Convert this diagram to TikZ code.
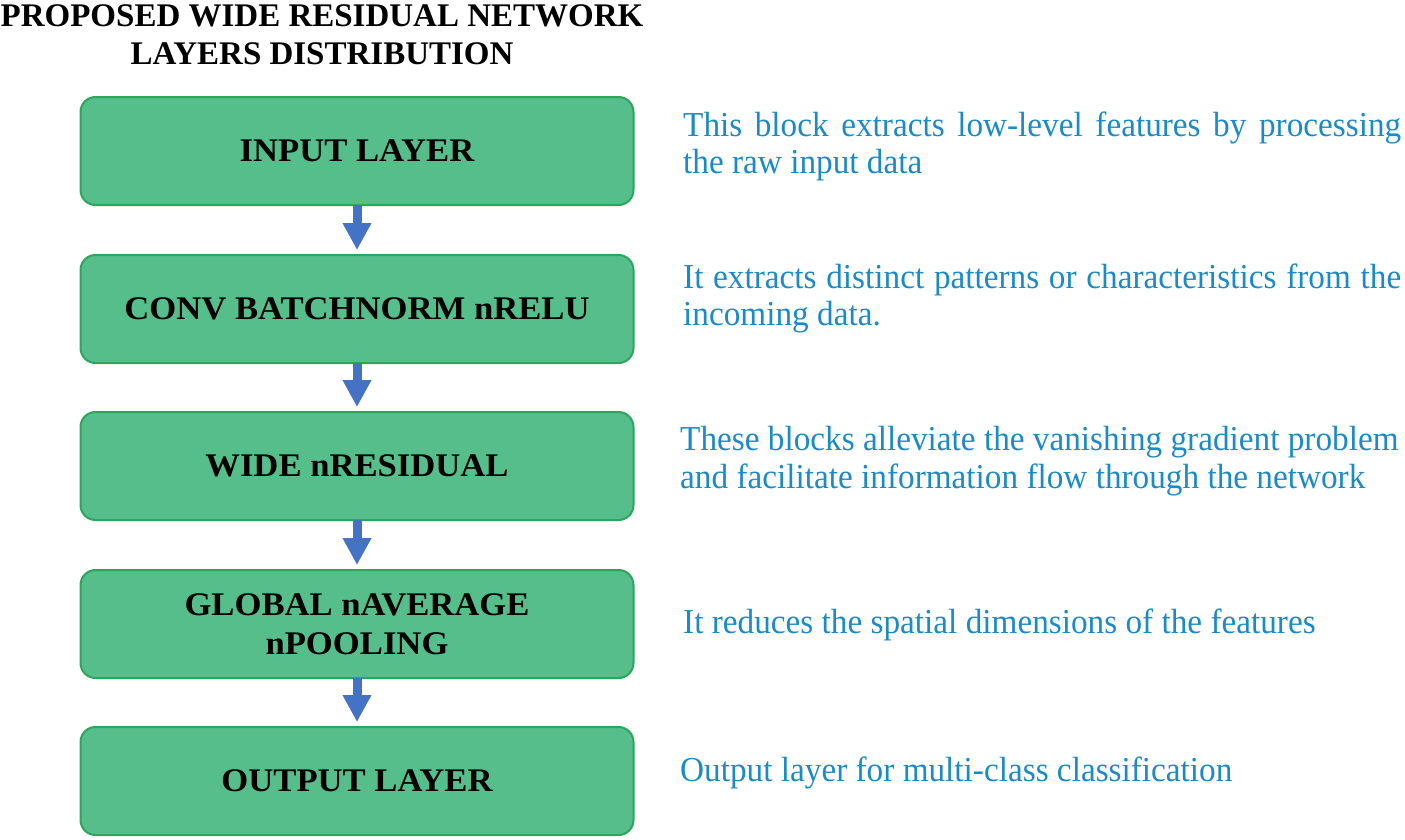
\documentclass[tikz,border=0pt]{standalone}
\usepackage{fontspec}
\setmainfont{Liberation Serif}
\newfontfamily\descfont[FakeStretch=0.95]{Liberation Serif}
\newfontfamily\boxfont[FakeStretch=1.05]{Liberation Serif}
\usetikzlibrary{arrows.meta}
\definecolor{boxfill}{HTML}{55BE8A}
\definecolor{boxline}{HTML}{2BA65A}
\definecolor{arrowblue}{HTML}{4472C4}
\definecolor{textblue}{HTML}{1B8AC8}
\tikzset{
  layerbox/.style={draw=boxline, line width=2pt, fill=boxfill, rounded corners=15pt,
    minimum width=553pt, minimum height=108pt, align=center,
    font=\boxfont\fontsize{33}{39}\selectfont\bfseries, text=black},
  flowarrow/.style={draw=arrowblue, line width=9pt, -{Triangle[width=27pt,length=27pt]}, shorten <=-1pt, shorten >=4pt},
  desc/.style={anchor=base west, text=textblue, font=\descfont\fontsize{35}{38}\selectfont, inner sep=0pt},
  title/.style={anchor=base, font=\fontsize{33}{39}\selectfont\bfseries, text=black, inner sep=0pt}
}
\begin{document}
\begin{tikzpicture}[x=1pt,y=-1pt]
\useasboundingbox (0,0) rectangle (1405,839);
\begin{scope}
\clip (0,0) rectangle (1405,839);
\node[title] (t1) at (322,26) {PROPOSED WIDE RESIDUAL NETWORK};
\node[title] (t2) at (322,64) {LAYERS DISTRIBUTION};
\node[layerbox] (b1) at (357,151) {INPUT LAYER};
\node[layerbox] (b2) at (357,309) {CONV BATCHNORM nRELU};
\node[layerbox] (b3) at (357,466) {WIDE nRESIDUAL};
\node[layerbox] (b4) at (357,624) {GLOBAL nAVERAGE\\nPOOLING};
\node[layerbox] (b5) at (357,781) {OUTPUT LAYER};
\draw[flowarrow] (b1.south) -- (b2.north);
\draw[flowarrow] (b2.south) -- (b3.north);
\draw[flowarrow] (b3.south) -- (b4.north);
\draw[flowarrow] (b4.south) -- (b5.north);
\node[desc] (d1a) at (683,136) {\makebox[718pt][s]{This block extracts low-level features by processing}};
\node[desc] (d1b) at (683,173) {the raw input data};
\node[desc] (d2a) at (683,288) {\makebox[718pt][s]{It extracts distinct patterns or characteristics from the}};
\node[desc] (d2b) at (683,325) {incoming data.};
\node[desc] (d3a) at (680,450) {These blocks alleviate the vanishing gradient problem};
\node[desc] (d3b) at (680,488) {and facilitate information flow through the network};
\node[desc] (d4) at (683,633) {It reduces the spatial dimensions of the features};
\node[desc] (d5) at (680,781) {Output layer for multi-class classification};
\end{scope}
\end{tikzpicture}
\end{document}
